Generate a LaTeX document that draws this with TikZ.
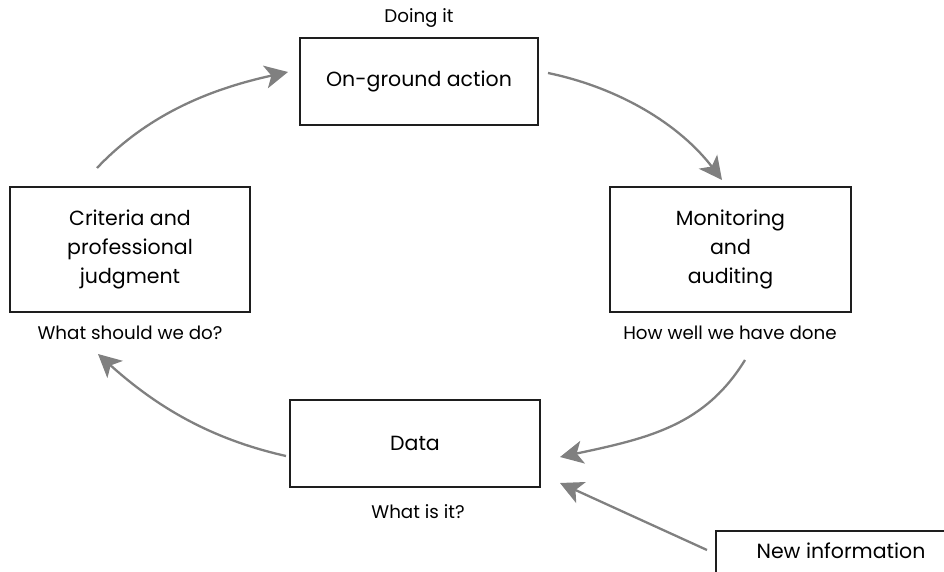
\documentclass[tikz,border=0pt]{standalone}
\usepackage{fontspec}
\setmainfont{Poppins}
\usetikzlibrary{arrows.meta}
\definecolor{arrowgray}{RGB}{128,128,128}
\definecolor{boxline}{RGB}{30,30,30}
\tikzset{
  stepbox/.style={draw=boxline, line width=1.4pt, align=center, font=\fontsize{20.5}{29}\selectfont, inner sep=0pt},
  caption/.style={font=\fontsize{18.3}{22}\selectfont, inner sep=0pt},
  flow/.style={draw=arrowgray, line width=2.3pt, -{Stealth[length=23pt,width=23pt,inset=6pt]}}
}
\begin{document}
\begin{tikzpicture}[x=1pt,y=-1pt]
\useasboundingbox (0,0) rectangle (944,572);
\clip (0,0) rectangle (944,572);
% boxes
\node[stepbox, minimum width=238pt, minimum height=87pt] (action) at (419,81.5) {On-ground action};
\node[stepbox, minimum width=240pt, minimum height=125pt] (criteria) at (130,249.5) {Criteria and\\professional\\judgment};
\node[stepbox, minimum width=241pt, minimum height=125pt] (monitor) at (730.5,249.5) {Monitoring\\and\\auditing};
\node[stepbox, minimum width=250pt, minimum height=87pt] (data) at (415,443.5) {Data};
\node[stepbox, draw=none] (newinfo) at (841,551) {New information};
\draw[boxline, line width=1.4pt] (716,531) rectangle (980,600);
% captions
\node[caption] (doing) at (419,18) {Doing it};
\node[caption] (should) at (130,333) {What should we do?};
\node[caption] (howwell) at (730,333) {How well we have done};
\node[caption] (whatis) at (418,512) {What is it?};
% connector end points
\coordinate (a1s) at (97,168);
\coordinate (a1e) at (288,72);
\coordinate (a2s) at (548,73);
\coordinate (a2e) at (722,180);
\coordinate (a3s) at (745,360);
\coordinate (a3e) at (560,457);
\coordinate (a4s) at (707,550);
\coordinate (a4e) at (560,483);
\coordinate (a5s) at (286,456);
\coordinate (a5e) at (98,354);
% connectors
\draw[flow] (a1s) .. controls (150,112) and (215,88) .. (a1e);
\draw[flow] (a2s) .. controls (620,88) and (680,125) .. (a2e);
\draw[flow] (a3s) .. controls (705,425) and (650,438) .. (a3e);
\draw[flow] (a4s) -- (a4e);
\draw[flow] (a5s) .. controls (215,440) and (160,410) .. (a5e);
\end{tikzpicture}
\end{document}
